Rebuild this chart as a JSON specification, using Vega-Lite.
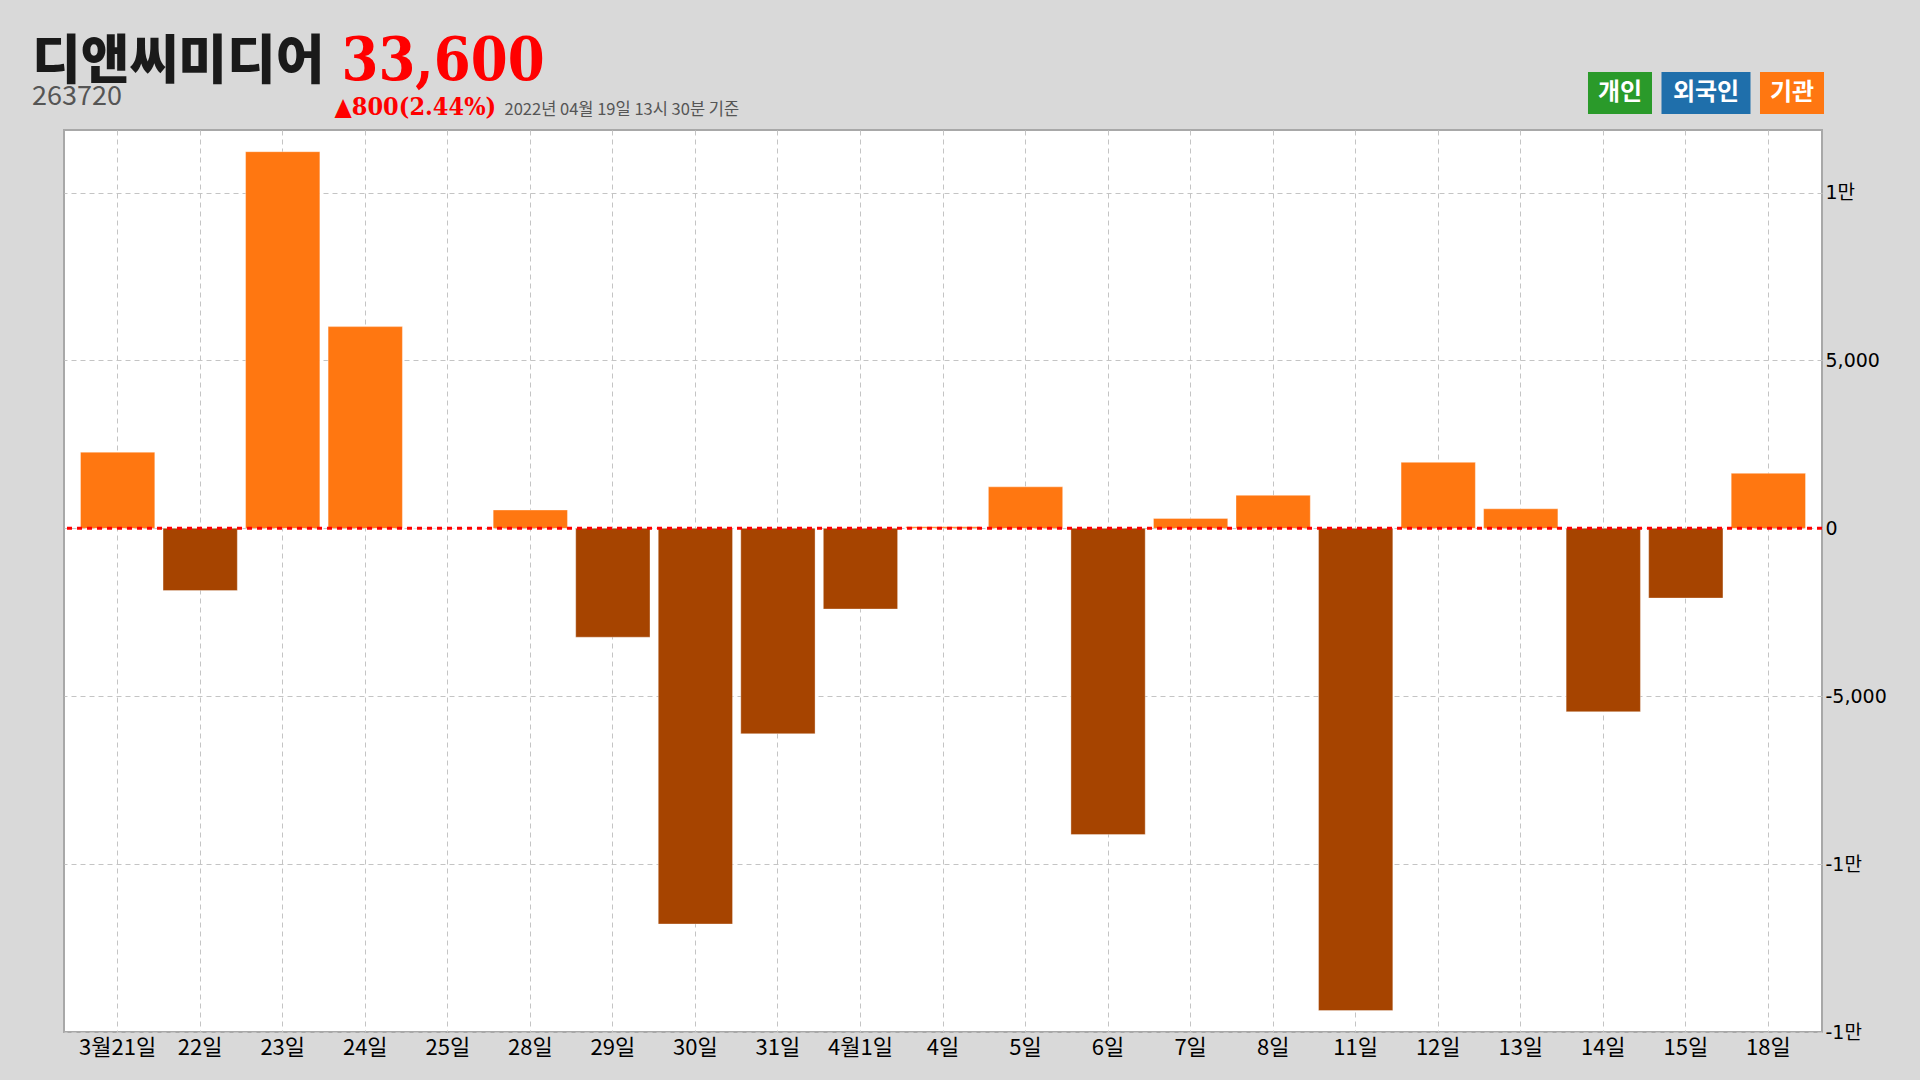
{
  "$schema": "https://vega.github.io/schema/vega-lite/v6.json",
  "width": 1758,
  "height": 902,
  "autosize": {"type": "none"},
  "padding": {"left": 64, "top": 130, "right": 98, "bottom": 48},
  "background": "#d9d9d9",
  "config": {
    "view": {"fill": "#ffffff", "stroke": "#a8a8a8", "strokeWidth": 2},
    "font": "Noto Sans CJK KR"
  },
  "title": {
    "text": "디앤씨미디어",
    "subtitle": "263720",
    "anchor": "start",
    "frame": "group",
    "orient": "top",
    "dx": -32,
    "offset": -78,
    "font": "Noto Sans CJK KR",
    "fontSize": 53,
    "fontWeight": 900,
    "color": "#1a1a1a",
    "subtitleFont": "Noto Sans CJK KR",
    "subtitleFontSize": 27,
    "subtitleColor": "#555555",
    "subtitlePadding": -6
  },
  "layer": [
    {
      "data": {
        "values": [
          {"date": "3월21일", "value": 2269},
          {"date": "22일", "value": -1853},
          {"date": "23일", "value": 11219},
          {"date": "24일", "value": 6009},
          {"date": "25일", "value": 0},
          {"date": "28일", "value": 547},
          {"date": "29일", "value": -3241},
          {"date": "30일", "value": -11784},
          {"date": "31일", "value": -6117},
          {"date": "4월1일", "value": -2403},
          {"date": "4일", "value": 45},
          {"date": "5일", "value": 1237},
          {"date": "6일", "value": -9120},
          {"date": "7일", "value": 297},
          {"date": "8일", "value": 984},
          {"date": "11일", "value": -14362},
          {"date": "12일", "value": 1966},
          {"date": "13일", "value": 583},
          {"date": "14일", "value": -5462},
          {"date": "15일", "value": -2076},
          {"date": "18일", "value": 1639}
        ]
      },
      "mark": {"type": "bar", "stroke": "#ffffff", "strokeOpacity": 0.35, "strokeWidth": 1},
      "encoding": {
        "x": {
          "field": "date",
          "type": "ordinal",
          "sort": null,
          "scale": {"paddingInner": 0.1, "paddingOuter": 0.2},
          "axis": {
            "orient": "bottom",
            "labelAngle": 0,
            "labelFont": "Noto Sans CJK KR",
            "labelFontSize": 22,
            "labelColor": "#000000",
            "labelPadding": 5,
            "ticks": false,
            "domain": false,
            "grid": true,
            "gridDash": [5, 4],
            "gridColor": "#c4c4c4",
            "gridWidth": 1,
            "bandPosition": 0.5,
            "title": "2022년 04월 19일 13시 30분 기준",
            "titleX": 440,
            "titleY": -918,
            "titleAlign": "left",
            "titleBaseline": "alphabetic",
            "titleAngle": 0,
            "titleFont": "Noto Sans CJK KR",
            "titleFontSize": 16.5,
            "titleFontWeight": "normal",
            "titleColor": "#555555"
          }
        },
        "y": {
          "field": "value",
          "type": "quantitative",
          "scale": {"domain": [-15000, 11865], "nice": false},
          "axis": {
            "orient": "right",
            "values": [10000, 5000, 0, -5000, -10000, -15000],
            "labelExpr": "datum.value == 0 ? '0' : (datum.value < 0 ? '-' : '') + (abs(datum.value) >= 10000 ? floor(abs(datum.value) / 10000) + '만' : format(abs(datum.value), ','))",
            "labelFont": "DejaVu Sans, Noto Sans CJK KR",
            "labelFontSize": 19,
            "labelColor": "#000000",
            "labelPadding": 3,
            "ticks": false,
            "domain": false,
            "grid": true,
            "gridDash": [5, 4],
            "gridColor": "#c4c4c4",
            "gridWidth": 1,
            "title": "▲800(2.44%)",
            "titleX": -1488,
            "titleY": -16,
            "titleAngle": 0,
            "titleAlign": "left",
            "titleBaseline": "alphabetic",
            "titleFont": "DejaVu Serif Condensed, DejaVu Serif",
            "titleFontSize": 25,
            "titleFontWeight": "bold",
            "titleColor": "#ff0000"
          }
        },
        "color": {
          "condition": {"test": "datum.value >= 0", "value": "#ff7711"},
          "value": "#a64400"
        }
      }
    },
    {
      "data": {"values": [{}]},
      "mark": {"type": "rule", "color": "#ff0000", "strokeWidth": 3, "strokeDash": [5, 5]},
      "encoding": {"y": {"datum": 0}}
    },
    {
      "data": {
        "values": [
          {"investor": "개인"},
          {"investor": "외국인"},
          {"investor": "기관"}
        ]
      },
      "mark": {"type": "point", "filled": true, "opacity": 0},
      "encoding": {
        "x": {
          "datum": "3월21일",
          "type": "ordinal",
          "axis": {
            "orient": "top",
            "labels": false,
            "ticks": false,
            "domain": false,
            "grid": false,
            "title": "33,600",
            "titleX": 277,
            "titleY": -51,
            "titleAlign": "left",
            "titleBaseline": "alphabetic",
            "titleAngle": 0,
            "titleFont": "DejaVu Serif Condensed, DejaVu Serif",
            "titleFontSize": 59,
            "titleFontWeight": "bold",
            "titleColor": "#ff0000"
          }
        },
        "color": {
          "field": "investor",
          "type": "nominal",
          "scale": {"domain": ["개인", "외국인", "기관"], "range": ["#2a9a2a", "#1f6fab", "#ff7711"]},
          "legend": {
            "title": null,
            "orient": "none",
            "legendX": 1535,
            "legendY": -58,
            "direction": "horizontal",
            "columns": 3,
            "columnPadding": 8,
            "padding": 0,
            "symbolSize": 1764,
            "symbolOpacity": 1,
            "symbolStrokeWidth": 0,
            "labelOffset": -21,
            "labelAlign": "center",
            "labelFont": "Noto Sans CJK KR",
            "labelFontSize": 24,
            "labelFontWeight": "bold",
            "labelColor": "#ffffff"
          }
        },
        "shape": {
          "field": "investor",
          "type": "nominal",
          "scale": {
            "domain": ["개인", "외국인", "기관"],
            "range": ["M-1.524,-1H1.524V1H-1.524Z", "M-2.119,-1H2.119V1H-2.119Z", "M-1.524,-1H1.524V1H-1.524Z"]
          },
          "legend": {
            "title": null,
            "orient": "none",
            "legendX": 1535,
            "legendY": -58,
            "direction": "horizontal",
            "columns": 3,
            "columnPadding": 8,
            "padding": 0,
            "symbolSize": 1764,
            "symbolOpacity": 1,
            "symbolStrokeWidth": 0,
            "labelOffset": -21,
            "labelAlign": "center",
            "labelFont": "Noto Sans CJK KR",
            "labelFontSize": 24,
            "labelFontWeight": "bold",
            "labelColor": "#ffffff"
          }
        }
      }
    }
  ],
  "resolve": {"axis": {"x": "independent"}}
}
